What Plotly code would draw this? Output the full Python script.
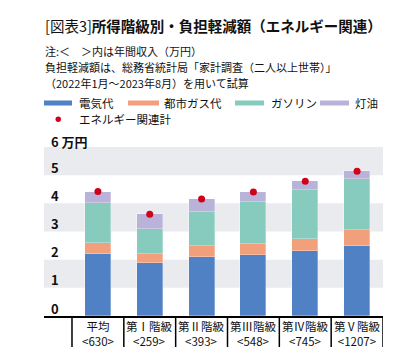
import plotly.graph_objects as go

categories = ["平均", "第Ⅰ階級", "第Ⅱ階級", "第Ⅲ階級", "第Ⅳ階級", "第Ⅴ階級"]
incomes = ["<630>", "<259>", "<393>", "<548>", "<745>", "<1207>"]
electricity = [2.20, 1.88, 2.09, 2.17, 2.30, 2.50]
city_gas = [0.40, 0.33, 0.39, 0.39, 0.43, 0.54]
gasoline = [1.42, 0.88, 1.21, 1.49, 1.73, 1.83]
kerosene = [0.39, 0.52, 0.46, 0.35, 0.32, 0.27]
energy_total = [4.42, 3.61, 4.15, 4.40, 4.78, 5.14]
y_ticks = [0, 1, 2, 3, 4, 5, 6]
y_tick_labels = ["0", "1", "2", "3", "4", "5", "6 万円"]

series_names = ["電気代", "都市ガス代", "ガソリン", "灯油"]
colors = ["#4f81c4", "#f2a07b", "#87cbbe", "#b9b3da"]
dot_name = "エネルギー関連計"
dot_color = "#d0021b"
band_color = "#e9ebee"

FONT = "Noto Sans CJK JP"
W, H = 416, 358
L, R, T, B = 36, 375, 139, 308  # plot area in px


def px(x):
    return (x - L) / (R - L)


def py(y):
    return (B - y) / (B - T)


xs = list(range(len(categories)))
fig = go.Figure()
for name, vals, col in zip(series_names, [electricity, city_gas, gasoline, kerosene], colors):
    fig.add_trace(go.Bar(x=xs, y=vals, name=name, width=0.5,
                         marker=dict(color=col, line=dict(color="rgba(255,255,255,0.6)", width=0.5)),
                         showlegend=False))
fig.add_trace(go.Scatter(x=xs, y=energy_total, mode="markers", name=dot_name,
                         marker=dict(color=dot_color, size=7), showlegend=False))

shapes = []
for lo in [1, 3, 5]:
    shapes.append(dict(type="rect", xref="paper", yref="y", x0=0, x1=1, y0=lo, y1=lo + 1,
                       fillcolor=band_color, line=dict(width=0), layer="below"))
for i in range(len(categories) + 1):
    shapes.append(dict(type="line", xref="x", yref="paper", x0=i - 0.5, x1=i - 0.5, y0=0, y1=py(339),
                       line=dict(color="black", width=1.5)))

annotations = []
# title
annotations.append(dict(xref="paper", yref="paper", x=px(35), y=py(18), xanchor="left", yanchor="middle",
                        text="[図表3]<b>所得階級別・負担軽減額（エネルギー関連）</b>", showarrow=False,
                        font=dict(family=FONT, size=14.5, color="#111")))
notes = ["注:＜　＞内は年間収入（万円）", "負担軽減額は、総務省統計局「家計調査（二人以上世帯）」",
         "（2022年1月～2023年8月）を用いて試算"]
for t, yy in zip(notes, [43, 59, 75]):
    annotations.append(dict(xref="paper", yref="paper", x=px(35), y=py(yy), xanchor="left", yanchor="middle",
                            text=t, showarrow=False, font=dict(family=FONT, size=11, color="#111")))
# legend
leg_pos = [(36, 64, 70), (120, 151, 155), (227, 256, 262), (312, 341, 346)]
for (x0, x1, tx), name, col in zip(leg_pos, series_names, colors):
    shapes.append(dict(type="rect", xref="paper", yref="paper", x0=px(x0), x1=px(x1), y0=py(97.5), y1=py(92.5),
                       fillcolor=col, line=dict(width=0)))
    annotations.append(dict(xref="paper", yref="paper", x=px(tx), y=py(95), xanchor="left", yanchor="middle",
                            text=name, showarrow=False, borderpad=0,
                            font=dict(family=FONT, size=11.5, color="#111")))
shapes.append(dict(type="circle", xref="paper", yref="paper", x0=px(47.5), x1=px(53), y0=py(108.5), y1=py(114),
                   fillcolor=dot_color, line=dict(width=0)))
annotations.append(dict(xref="paper", yref="paper", x=px(70), y=py(111), xanchor="left", yanchor="middle",
                        text=dot_name, showarrow=False, borderpad=0,
                        font=dict(family=FONT, size=11.5, color="#111")))
# y tick labels
for v, lab in zip(y_ticks, y_tick_labels):
    yy = py(133.5) if v == 6 else py(B - v * (B - T) / 6 - 8)
    annotations.append(dict(xref="paper", yref="paper", x=px(42), y=yy, xanchor="left", yanchor="middle",
                            text="<b>" + lab + "</b>", showarrow=False, borderpad=0,
                            font=dict(family=FONT, size=13, color="#111")))
# category labels
for i, (c, inc) in enumerate(zip(categories, incomes)):
    annotations.append(dict(xref="x", yref="paper", x=i, y=py(325.5), xanchor="center", yanchor="middle",
                            text=c + "<br>" + inc.replace("<", "&lt;").replace(">", "&gt;"),
                            showarrow=False, borderpad=0,
                            font=dict(family=FONT, size=11.5, color="#111")))

fig.update_layout(
    width=W, height=H, margin=dict(l=L, r=W - R, t=T, b=H - B),
    paper_bgcolor="white", plot_bgcolor="white", barmode="stack", bargap=0,
    shapes=shapes, annotations=annotations, showlegend=False,
    xaxis=dict(range=[-1.04, 5.5], showticklabels=False, showgrid=False, zeroline=False,
               showline=True, linecolor="black", linewidth=1.5, ticks="", fixedrange=True),
    yaxis=dict(range=[0, 6], showticklabels=False, showgrid=False, zeroline=False, ticks="", fixedrange=True),
    font=dict(family=FONT),
)
fig.write_html("out.html")
